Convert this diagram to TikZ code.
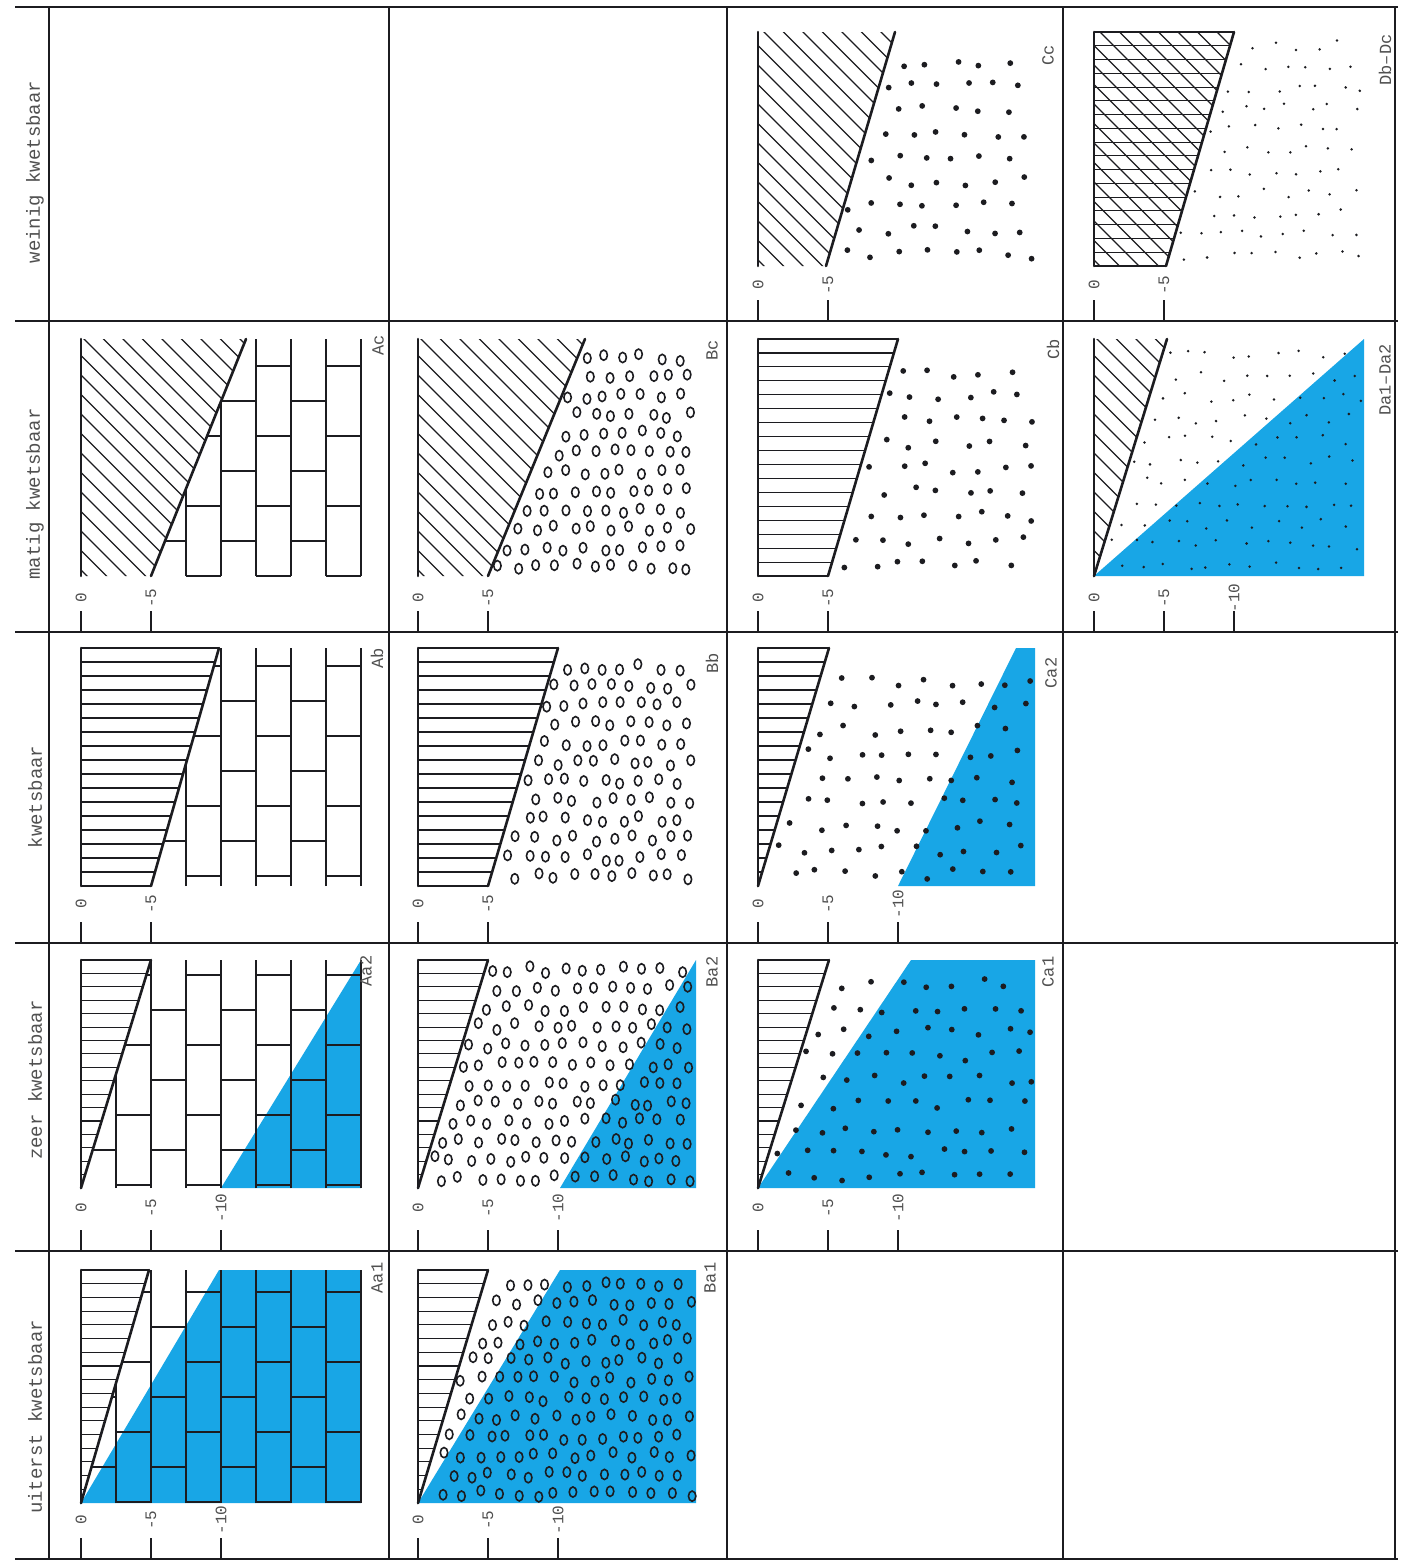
\documentclass[tikz,border=0pt]{standalone}
\usepackage{fontspec}
\setmonofont{Liberation Mono}
\usetikzlibrary{shapes.geometric}
\definecolor{water}{RGB}{24,166,230}
\definecolor{ink}{RGB}{28,28,32}
\definecolor{labelgray}{RGB}{80,80,80}
\tikzset{
  gridline/.style={line width=0.75pt, draw=ink},
  hatchline/.style={line width=0.55pt, draw=ink},
  edgeline/.style={line width=1.3pt, draw=ink, line cap=round},
  brickline/.style={line width=0.65pt, draw=ink},
  waterfill/.style={fill=water},
  header/.style={rotate=90, font=\ttfamily\fontsize{9.5}{10}\selectfont, text=labelgray, inner sep=0pt},
  ticklabel/.style={rotate=90, font=\ttfamily\fontsize{8}{9}\selectfont, text=labelgray, inner sep=0pt},
  panellabel/.style={rotate=90, font=\ttfamily\fontsize{8.5}{9}\selectfont, text=labelgray, inner sep=0pt},
  gravel/.style={ellipse, draw=ink, line width=0.8pt, minimum width=3.7pt, minimum height=5.1pt, inner sep=0pt},
  sanddot/.style={circle, fill=ink, minimum size=2.9pt, inner sep=0pt},
  finedot/.style={circle, fill=ink, minimum size=1.4pt, inner sep=0pt},
}
% horizontal hatch lines in wedge; #1 slope x at bottom, #2 slope x at top
\newcommand\hhatch[2]{%
  \foreach \kk in {0,...,17}{%
    \pgfmathsetmacro\yy{\kk*\PH/17}%
    \pgfmathsetmacro\xx{#1+(#2-#1)*\kk/17}%
    \draw[hatchline] (0,\yy) -- (\xx,\yy);}}
% diagonal hatch in wedge
\newcommand\dhatch[2]{%
  \begin{scope}
    \clip (0,0) -- (#1,0) -- (#2,\PH) -- (0,\PH) -- cycle;
    \foreach \cc in {6,25.5,...,430}{%
      \draw[hatchline] (\cc-320,320) -- (\cc+20,-20);}
  \end{scope}}
% wedge border lines
\newcommand\wedgeedge[2]{%
  \draw[edgeline] (0,0) -- (0,\PH);
  \draw[edgeline] (#1,0) -- (#2,\PH);}
% brick pattern right of the slope line; #3 = vertical offset of the joints
\newcommand\brickpattern[3]{%
  \begin{scope}
    \clip (#1,-3) -- (\PW+3,-3) -- (\PW+3,\PH) -- (#2,\PH) -- cycle;
    \foreach \jj in {1,...,8} \draw[brickline] (35*\jj,0) -- (35*\jj,\PH);
    \foreach \jj in {0,...,7}{\foreach \mm in {0,...,6}{%
      \pgfmathtruncatemacro\bp{mod(\jj+\mm,2)}%
      \ifnum\bp=1 \draw[brickline] (35*\jj,35*\mm+#3) -- (35*\jj+35,35*\mm+#3);\fi}}
  \end{scope}}
% jittered scatter right of the slope line
% #1 style, #2 dx, #3 dy, #4 jitter, #5 seed, #6 slope bottom x, #7 slope top x
\newcommand\scatterpts[7]{%
  \pgfmathsetseed{#5}%
  \pgfmathtruncatemacro\nI{\PW/#2}%
  \pgfmathtruncatemacro\nJ{\PH/#3-1}%
  \pgfmathsetmacro\sXmax{\PW-3}%
  \pgfmathsetmacro\sYmax{\PH-3}%
  \foreach \jj in {0,...,\nJ}{%
    \foreach \ii in {0,...,\nI}{%
      \pgfmathsetmacro\sX{(\ii+0.25+0.5*mod(\jj,2))*#2+rnd*2*#4-#4}%
      \pgfmathsetmacro\sY{(\jj+0.5)*#3+rnd*2*#4-#4}%
      \pgfmathsetmacro\sB{#6+\sY/\PH*(#7-#6)+5}%
      \ifdim\sX pt>\sB pt\relax
        \ifdim\sX pt<\sXmax pt\relax
          \ifdim\sY pt>3pt\relax
            \ifdim\sY pt<\sYmax pt\relax
              \node[#1] at (\sX,\sY) {};%
            \fi
          \fi
        \fi
      \fi}}}
% depth ticks: #1 origin x, #2 label y, #3 row bottom y, #4 list depth/label
\newcommand\depthticks[4]{%
  \foreach \dep/\lab in {#4}{%
    \draw[gridline] (#1+\dep,#3-21) -- (#1+\dep,#3);
    \node[ticklabel] at (#1+\dep,#2) {\lab};}}
\begin{document}
\begin{tikzpicture}[x=0.5pt,y=-0.5pt]
\useasboundingbox (0,0) rectangle (1402,1565);
\fill[white] (0,0) rectangle (1402,1565);

% ---------- table grid ----------
\foreach \yy in {7,321,632,943,1251,1559} \draw[gridline] (15,\yy) -- (1398,\yy);
\foreach \xx in {49,389,727,1063,1395} \draw[gridline] (\xx,7) -- (\xx,1559);

% ---------- row headers ----------
\node[header] (hw) at (35,172) {weinig kwetsbaar};
\node[header] (hm) at (35,494) {matig kwetsbaar};
\node[header] (hk) at (35,797) {kwetsbaar};
\node[header] (hz) at (35,1080) {zeer kwetsbaar};
\node[header] (hu) at (35,1417) {uiterst kwetsbaar};

% ================= column A (bricks) =================
% Ac
\begin{scope}[shift={(81,576)},yscale=-1]
  \def\PH{237}\def\PW{280}
  \brickpattern{70}{165}{0}
  \dhatch{70}{165}
  \wedgeedge{70}{165}
\end{scope}
% Ab
\begin{scope}[shift={(81,886)},yscale=-1]
  \def\PH{238}\def\PW{280}
  \brickpattern{70}{138}{10}
  \hhatch{70}{138}
  \wedgeedge{70}{138}
\end{scope}
% Aa2
\begin{scope}[shift={(81,1188)},yscale=-1]
  \def\PH{228}\def\PW{280}
  \fill[waterfill] (140,0) -- (280,0) -- (280,\PH) -- cycle;
  \brickpattern{0}{70}{3}
  \hhatch{0}{70}
  \wedgeedge{0}{70}
\end{scope}
% Aa1
\begin{scope}[shift={(81,1503)},yscale=-1]
  \def\PH{233}\def\PW{280}
  \fill[waterfill] (0,0) -- (138,\PH) -- (280,\PH) -- (280,0) -- cycle;
  \brickpattern{0}{68}{1}
  \hhatch{0}{68}
  \wedgeedge{0}{68}
\end{scope}

% ================= column B (gravel) =================
% Bc
\begin{scope}[shift={(418,576)},yscale=-1]
  \def\PH{237}\def\PW{278}
  \scatterpts{gravel}{19}{19}{3.5}{11}{70}{167}
  \dhatch{70}{167}
  \wedgeedge{70}{167}
\end{scope}
% Bb
\begin{scope}[shift={(418,886)},yscale=-1]
  \def\PH{238}\def\PW{278}
  \scatterpts{gravel}{19}{19}{3.5}{12}{70}{140}
  \hhatch{70}{140}
  \wedgeedge{70}{140}
\end{scope}
% Ba2
\begin{scope}[shift={(418,1188)},yscale=-1]
  \def\PH{228}\def\PW{278}
  \fill[waterfill] (142,0) -- (278,0) -- (278,\PH) -- cycle;
  \scatterpts{gravel}{19}{19}{3.5}{13}{0}{70}
  \hhatch{0}{70}
  \wedgeedge{0}{70}
\end{scope}
% Ba1
\begin{scope}[shift={(418,1503)},yscale=-1]
  \def\PH{233}\def\PW{278}
  \fill[waterfill] (0,0) -- (142,\PH) -- (278,\PH) -- (278,0) -- cycle;
  \scatterpts{gravel}{19}{19}{3.5}{14}{0}{70}
  \hhatch{0}{70}
  \wedgeedge{0}{70}
\end{scope}

% ================= column C (sand) =================
% Cc
\begin{scope}[shift={(758,266)},yscale=-1]
  \def\PH{234}\def\PW{277}
  \scatterpts{sanddot}{27}{24}{5}{21}{68}{137}
  \dhatch{68}{137}
  \wedgeedge{68}{137}
\end{scope}
% Cb
\begin{scope}[shift={(758,576)},yscale=-1]
  \def\PH{237}\def\PW{277}
  \scatterpts{sanddot}{27}{24}{5}{22}{70}{140}
  \hhatch{70}{140}
  \wedgeedge{70}{140}
\end{scope}
% Ca2
\begin{scope}[shift={(758,886)},yscale=-1]
  \def\PH{238}\def\PW{277}
  \fill[waterfill] (140,0) -- (258,\PH) -- (277,\PH) -- (277,0) -- cycle;
  \scatterpts{sanddot}{27}{24}{5}{23}{0}{71}
  \hhatch{0}{71}
  \wedgeedge{0}{71}
\end{scope}
% Ca1
\begin{scope}[shift={(758,1188)},yscale=-1]
  \def\PH{228}\def\PW{277}
  \fill[waterfill] (0,0) -- (153,\PH) -- (277,\PH) -- (277,0) -- cycle;
  \scatterpts{sanddot}{27}{24}{5}{24}{0}{71}
  \hhatch{0}{71}
  \wedgeedge{0}{71}
\end{scope}

% ================= column D (fine sand) =================
% Db-Dc
\begin{scope}[shift={(1094,266)},yscale=-1]
  \def\PH{234}\def\PW{270}
  \scatterpts{finedot}{22}{21}{5}{31}{72}{140}
  \hhatch{72}{140}
  \dhatch{72}{140}
  \wedgeedge{72}{140}
\end{scope}
% Da1-Da2
\begin{scope}[shift={(1094,576)},yscale=-1]
  \def\PH{237}\def\PW{270}
  \fill[waterfill] (0,0) -- (270,\PH) -- (270,0) -- cycle;
  \scatterpts{finedot}{22}{21}{5}{32}{0}{73}
  \dhatch{0}{73}
  \wedgeedge{0}{73}
\end{scope}

% ---------- depth ticks and labels ----------
\depthticks{81}{598}{632}{0/0,70/-5}
\depthticks{81}{904}{943}{0/0,70/-5}
\depthticks{81}{1208}{1251}{0/0,70/-5,140/-10}
\depthticks{81}{1520}{1559}{0/0,70/-5,140/-10}
\depthticks{418}{598}{632}{0/0,70/-5}
\depthticks{418}{904}{943}{0/0,70/-5}
\depthticks{418}{1208}{1251}{0/0,70/-5,140/-10}
\depthticks{418}{1520}{1559}{0/0,70/-5,140/-10}
\depthticks{758}{285}{321}{0/0,70/-5}
\depthticks{758}{598}{632}{0/0,70/-5}
\depthticks{758}{904}{943}{0/0,70/-5,140/-10}
\depthticks{758}{1208}{1251}{0/0,70/-5,140/-10}
\depthticks{1094}{285}{321}{0/0,70/-5}
\depthticks{1094}{598}{632}{0/0,70/-5,140/-10}

% ---------- panel labels ----------
\node[panellabel] (lAc) at (378,345) {Ac};
\node[panellabel] (lAb) at (377,658) {Ab};
\node[panellabel] (lAa2) at (366,971) {Aa2};
\node[panellabel] (lAa1) at (377,1278) {Aa1};
\node[panellabel] (lBc) at (712,350) {Bc};
\node[panellabel] (lBb) at (712,663) {Bb};
\node[panellabel] (lBa2) at (712,972) {Ba2};
\node[panellabel] (lBa1) at (710,1278) {Ba1};
\node[panellabel] (lCc) at (1048,55) {Cc};
\node[panellabel] (lCb) at (1053,349) {Cb};
\node[panellabel] (lCa2) at (1051,673) {Ca2};
\node[panellabel] (lCa1) at (1048,972) {Ca1};
\node[panellabel] (lDbc) at (1385,60) {Db–Dc};
\node[panellabel] (lDa) at (1385,380) {Da1–Da2};
\end{tikzpicture}
\end{document}
